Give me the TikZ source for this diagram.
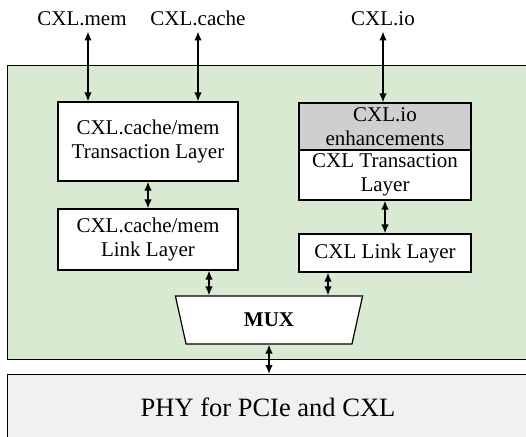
\documentclass[tikz,border=0pt]{standalone}
\usepackage{fontspec}
\setmainfont{Liberation Serif}
\usetikzlibrary{arrows.meta,shapes.geometric}
\definecolor{cxlgreen}{RGB}{217,234,211}
\definecolor{iogray}{RGB}{208,207,207}
\definecolor{phygray}{RGB}{240,241,243}
\newcommand{\boxfont}{\fontsize{21}{24}\selectfont}

\tikzset{
    layer/.style={draw, line width=1.2pt, fill=white, align=center, inner sep=0pt,
        minimum width=180pt, font=\boxfont},
    iolayer/.style={layer, minimum width=172pt},
    proto/.style={font=\boxfont, anchor=base, inner sep=5pt},
    link/.style={{Latex[length=9pt,width=7.5pt]}-{Latex[length=9pt,width=7.5pt]}, line width=1.4pt},
}

\begin{document}
\begin{tikzpicture}[x=1pt,y=-1pt]
    \useasboundingbox (0,0) rectangle (526,436);
    \clip (0,0) rectangle (526,436);

    % controller area and the physical layer below it
    \node[draw, line width=1.2pt, fill=cxlgreen, anchor=north west,
          minimum width=540pt, minimum height=294pt] (core) at (7,65) {};
    \node[draw, line width=1.2pt, fill=phygray, anchor=north west,
          minimum width=540pt, minimum height=80pt] (phy) at (7,374) {};
    \node[font=\fontsize{26.5}{30}\selectfont, anchor=base] (phytext) at (268,416) {PHY for PCIe and CXL};

    % protocol names on top
    \node[proto] (mem) at (82,26) {CXL.mem};
    \node[proto] (cache) at (198,26) {CXL.cache};
    \node[proto] (io) at (383,26) {CXL.io};

    % cache/mem stack
    \node[layer, minimum height=79pt] (cmtl) at (148,141.5) {CXL.cache/mem\\Transaction Layer};
    \node[layer, minimum height=61pt] (cmll) at (148,239.5) {CXL.cache/mem\\Link Layer};

    % io stack
    \node[iolayer, fill=iogray, minimum height=47pt] (ioenh) at (385,126.5) {CXL.io\\enhancements};
    \node[iolayer, minimum height=50pt] (iotl) at (385,175) {CXL Transaction\\Layer};
    \node[iolayer, minimum height=38pt] (ioll) at (385,253) {CXL Link Layer};

    % arbiter
    \node[draw, line width=1.2pt, fill=white, trapezium, shape border rotate=180,
          trapezium angle=77, trapezium stretches=true, minimum width=188pt,
          minimum height=48pt, inner sep=0pt, font=\fontsize{21}{24}\selectfont\bfseries]
          (mux) at (269,320) {MUX};

    \draw[link] ([xshift=6pt]mem.south) -- ([xshift=6pt]mem.south |- cmtl.north);
    \draw[link] (cache.south) -- (cache.south |- cmtl.north);
    \draw[link] (io.south) -- (io.south |- ioenh.north);

    \draw[link] (cmtl) -- (cmll);
    \draw[link] (iotl) -- (ioll);

    \draw[link] ([xshift=61pt]cmll.south) -- ([xshift=61pt]cmll.south |- mux.north);
    \draw[link] ([xshift=-57pt]ioll.south) -- ([xshift=-57pt]ioll.south |- mux.north);
    \draw[link] (mux.south) -- (mux.south |- phy.north);

\end{tikzpicture}
\end{document}
